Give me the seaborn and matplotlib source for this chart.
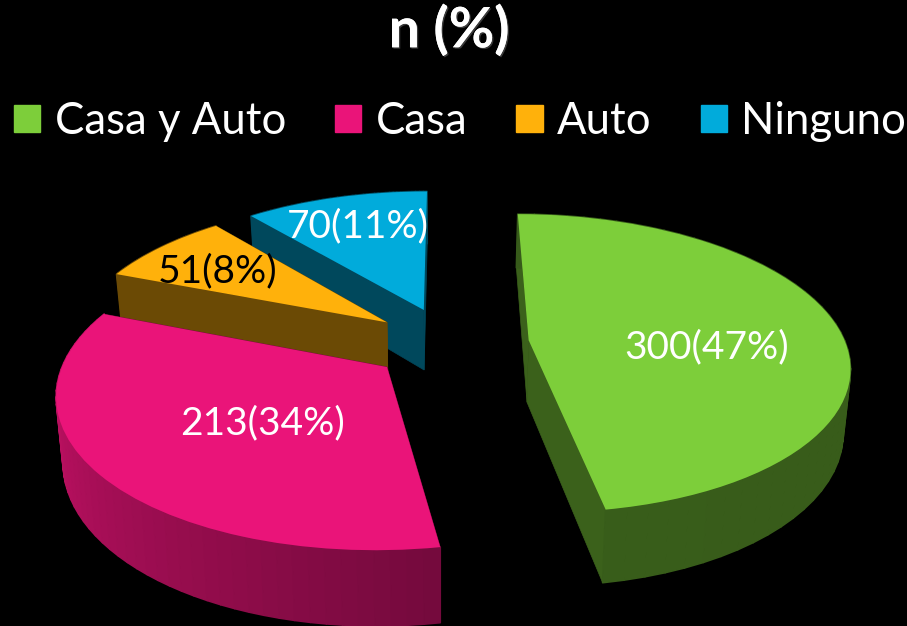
import matplotlib
matplotlib.use('Agg')
import matplotlib.pyplot as plt
import matplotlib.patches as mpatches
import matplotlib.patheffects as pe
from matplotlib.collections import PolyCollection
from matplotlib.transforms import Transform
import numpy as np
import seaborn as sns

categories = ['Casa y Auto', 'Casa', 'Auto', 'Ninguno']
values = [300, 213, 51, 70]
title = 'n (%)'

hex_colors = ['#7DCE3A', '#EA1479', '#FFB10B', '#01ABDB']
text_colors = ['white', 'white', 'black', 'white']
label_pos = [(707, 347), (263, 423), (218, 271), (358, 226)]
# how bright the outer wall is at each end of the arc, and the straight side walls
arc_shade = [(0.45, 0.44), (0.92, 0.50), (0.42, 0.42), (0.42, 0.42)]
side_shade = [0.47, 0.50, 0.42, 0.42]
draw_rank = [3, 2, 1, 0]

sns.set_style('dark', {'axes.facecolor': 'black', 'figure.facecolor': 'black'})
plt.rcParams['font.family'] = ['Lato', 'DejaVu Sans']
palette = sns.color_palette(hex_colors)

# camera for the tilted pie, found from the corners in the picture
VP_X, VP_Y = 448, -600
DIST, SCALE_X, SCALE_Y, THICK = 6.46, 2040, 6072, 400


class PieView(Transform):
    input_dims = 2
    output_dims = 2
    is_separable = False

    def transform_non_affine(self, values):
        pts = np.asarray(values, dtype=float)
        w = DIST + pts[:, 1]
        return np.column_stack([VP_X + SCALE_X * pts[:, 0] / w, VP_Y + SCALE_Y / w])


def drop(pts):
    # bottom edge of the slice under points already on the picture
    w = SCALE_Y / (pts[:, 1] - VP_Y)
    return np.column_stack([pts[:, 0] + (440 - pts[:, 0]) * 0.018, pts[:, 1] + THICK / w])


fig = plt.figure(figsize=(9.07, 6.26), dpi=100)
ax = fig.add_axes([0, 0, 1, 1])
view = PieView()

wedges, _ = ax.pie(values, colors=palette, startangle=90, counterclock=False,
                   explode=[0.25] * len(values), center=(0.006, -0.023),
                   wedgeprops={'linewidth': 0})
ax.set_aspect('auto')
ax.set_xlim(0, 907)
ax.set_ylim(626, 0)
ax.axis('off')

for i, wedge in enumerate(wedges):
    rank = draw_rank[i]
    wedge.set_transform(view + ax.transData)
    wedge.set_zorder(2 * rank + 1)
    color = np.array(palette[i])

    th = np.radians(np.linspace(wedge.theta1, wedge.theta2, 50))
    cx, cy = wedge.center
    arc = np.column_stack([cx + wedge.r * np.cos(th), cy + wedge.r * np.sin(th)])
    top = view.transform(arc)
    bot = drop(top)

    apex = view.transform(np.array([[cx, cy]]))
    apex_bot = drop(apex)
    side_col = color * side_shade[i]
    for j in (0, -1):
        quad = np.array([apex[0], top[j], bot[j], apex_bot[0]])
        ax.fill(quad[:, 0], quad[:, 1], color=side_col, lw=0.5, zorder=2 * rank)

    quads = [np.array([top[k], top[k + 1], bot[k + 1], bot[k]]) for k in range(len(top) - 1)]
    shades = np.linspace(arc_shade[i][0], arc_shade[i][1], len(quads))
    cols = [color * s for s in shades]
    ax.add_collection(PolyCollection(quads, facecolors=cols, edgecolors=cols,
                                     linewidths=1.2, zorder=2 * rank + 0.5))

total = sum(values)
for v, pos, c in zip(values, label_pos, text_colors):
    ax.text(pos[0], pos[1], f'{v}({round(100 * v / total)}%)', color=c, fontsize=28,
            ha='center', va='center', zorder=20)

ax.text(449, 30, title, color='white', fontsize=40, fontweight='bold', ha='center', va='center',
        path_effects=[pe.withSimplePatchShadow(offset=(1, -1), shadow_rgbFace='#555555', alpha=0.7),
                      pe.Normal()])

handles = [mpatches.Patch(color=c, label=n) for c, n in zip(palette, categories)]
leg = ax.legend(handles=handles, ncols=4, frameon=False, loc='center left',
                bbox_to_anchor=(0.0154, 0.806), fontsize=31.5, labelcolor='white',
                handlelength=0.6, handleheight=0.6, handletextpad=0.33,
                columnspacing=1.12, borderpad=0, borderaxespad=0)

plt.savefig('out.png', dpi=100, facecolor='black')
